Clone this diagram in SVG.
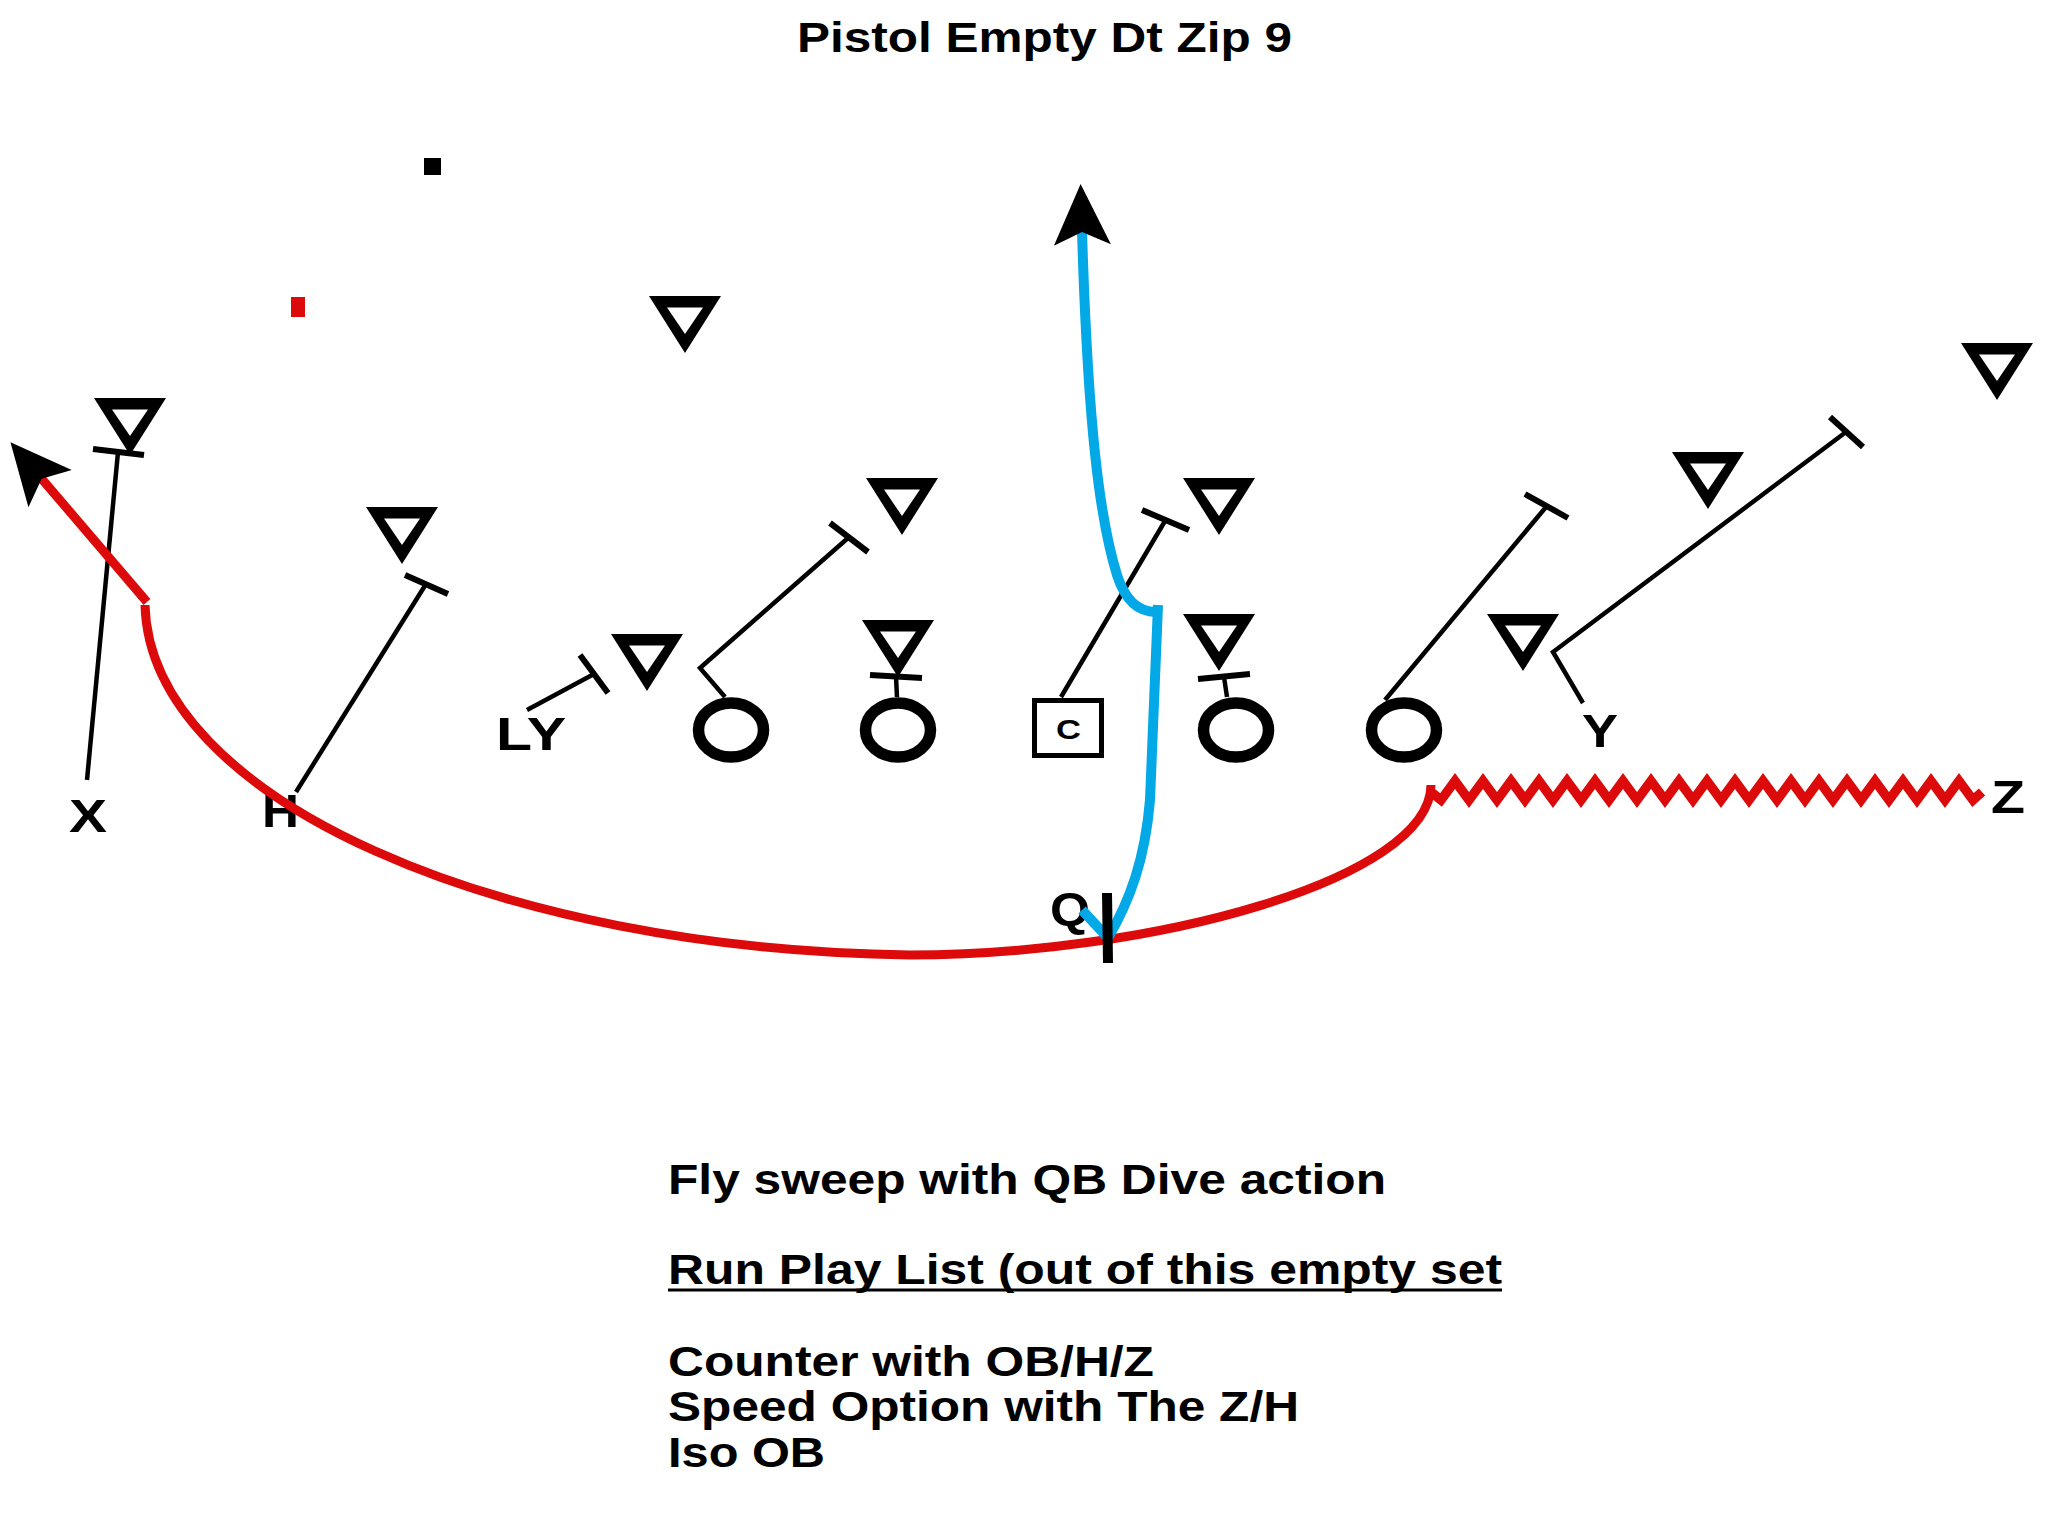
<svg xmlns="http://www.w3.org/2000/svg" width="2048" height="1536" viewBox="0 0 2048 1536">
<defs>
<style>
.lbl{font-family:"Liberation Sans",Arial,sans-serif;font-weight:bold;font-size:47px;fill:#000}
.txt{font-family:"Liberation Sans",Arial,sans-serif;font-weight:bold;font-size:42px;fill:#000}
.blk{stroke:#000;stroke-width:4.5;fill:none;stroke-linejoin:miter}
.bar{stroke:#000;stroke-width:6;fill:none}
.ol{fill:#fff;stroke:#000;stroke-width:11.5}
.red{fill:none;stroke:#dc0a0a;stroke-width:9}
.zig{fill:none;stroke:#dc0a0a;stroke-width:9.5;stroke-linejoin:miter}
.blue{fill:none;stroke:#03a9e6;stroke-width:10}
.tri{fill:#000;fill-rule:evenodd}
</style>
<path id="tri" d="M-36,0 H36 L0,57 Z M-18,11.5 L18,11.5 L0,38 Z"/>
<marker id="ah" markerUnits="userSpaceOnUse" viewBox="-70 -35 80 70" markerWidth="80" markerHeight="70" refX="-47" refY="0" orient="auto">
<path d="M0,0 L-61,-28.5 L-48,0 L-61,28.5 Z" fill="#000"/>
</marker>
</defs>
<rect width="2048" height="1536" fill="#fff"/>

<g id="title"><text class="txt" x="797" y="52" textLength="495" lengthAdjust="spacingAndGlyphs">Pistol Empty Dt Zip 9</text></g>

<g id="marks">
<rect x="424" y="158" width="17" height="17" fill="#000"/>
<rect x="291" y="297" width="14" height="20" fill="#dc0a0a"/>
</g>

<g id="defense" class="tri">
<use id="d1" href="#tri" transform="translate(130,398)"/>
<use id="d2" href="#tri" transform="translate(402,507)"/>
<use id="d3" href="#tri" transform="translate(685,296)"/>
<use id="d4" href="#tri" transform="translate(647,634)"/>
<use id="d5" href="#tri" transform="translate(902,478)"/>
<use id="d6" href="#tri" transform="translate(898,620)"/>
<use id="d7" href="#tri" transform="translate(1219,478)"/>
<use id="d8" href="#tri" transform="translate(1219,614)"/>
<use id="d9" href="#tri" transform="translate(1523,614)"/>
<use id="d10" href="#tri" transform="translate(1708,452)"/>
<use id="d11" href="#tri" transform="translate(1997,343)"/>
</g>

<g id="offense">
<g id="X"><text class="lbl" x="69" y="832" textLength="38" lengthAdjust="spacingAndGlyphs">X</text></g>
<g id="H"><text class="lbl" x="262" y="827" textLength="37" lengthAdjust="spacingAndGlyphs">H</text></g>
<g id="LY"><text class="lbl" x="496" y="750" textLength="70" lengthAdjust="spacingAndGlyphs">LY</text></g>
<g id="LT"><ellipse class="ol" cx="731" cy="730" rx="32.5" ry="27"/></g>
<g id="LG"><ellipse class="ol" cx="898" cy="730" rx="32.5" ry="27"/></g>
<g id="C"><rect x="1034.5" y="700.5" width="67" height="55" fill="#fff" stroke="#000" stroke-width="5"/><text class="txt" style="font-size:28px" x="1056" y="739" textLength="25" lengthAdjust="spacingAndGlyphs">C</text></g>
<g id="RG"><ellipse class="ol" cx="1236" cy="730" rx="32.5" ry="27"/></g>
<g id="RT"><ellipse class="ol" cx="1404" cy="730" rx="32.5" ry="27"/></g>
<g id="Y"><text class="lbl" x="1582" y="747" textLength="36" lengthAdjust="spacingAndGlyphs">Y</text></g>
<g id="Z"><text class="lbl" x="1991" y="813" textLength="34" lengthAdjust="spacingAndGlyphs">Z</text></g>
<g id="Q"><text class="lbl" x="1050" y="925" textLength="40" lengthAdjust="spacingAndGlyphs">Q</text></g>
</g>

<g id="connectors">
<polyline class="blk" points="87,780 118,452"/>
<line class="bar" x1="93" y1="449" x2="144" y2="455"/>
<polyline class="blk" points="296,792 426,584"/>
<line class="bar" x1="405" y1="575" x2="448" y2="594"/>
<polyline class="blk" points="527,710 594,674"/>
<line class="bar" x1="580" y1="655" x2="608" y2="693"/>
<polyline class="blk" points="725,697 700,668 848,538"/>
<line class="bar" x1="830" y1="523" x2="868" y2="552"/>
<polyline class="blk" points="897,697 896,677"/>
<line class="bar" x1="870" y1="675" x2="922" y2="678"/>
<polyline class="blk" points="1061,697 1165,521"/>
<line class="bar" x1="1142" y1="510" x2="1189" y2="530"/>
<polyline class="blk" points="1227,697 1224,677"/>
<line class="bar" x1="1198" y1="679" x2="1250" y2="674"/>
<polyline class="blk" points="1385,700 1546,507"/>
<line class="bar" x1="1525" y1="494" x2="1568" y2="518"/>
<polyline class="blk" points="1583,703 1553,652 1846,432"/>
<line class="bar" x1="1830" y1="417" x2="1863" y2="447"/>
<path class="red" d="M147,602 L41,478" marker-end="url(#ah)"/>
<path class="red" d="M145,605 C150,800 500,950 910,955 C1150,955 1430,880 1431,785"/>
<polyline class="zig" points="1431,792 1441,800 1455,781 1469,800 1483,781 1497,800 1511,781 1525,800 1539,781 1553,800 1567,781 1581,800 1595,781 1609,800 1623,781 1637,800 1651,781 1665,800 1679,781 1693,800 1707,781 1721,800 1735,781 1749,800 1763,781 1777,800 1791,781 1805,800 1819,781 1833,800 1847,781 1861,800 1875,781 1889,800 1903,781 1917,800 1931,781 1945,800 1959,781 1973,800 1982,792"/>
<path class="blue" d="M1082,910 L1108,938 C1130,900 1145,860 1150,800 L1158,605"/>
<path class="blue" d="M1156,612 C1138,612 1125,600 1117,575 C1100,520 1088,430 1082,231" marker-end="url(#ah)"/>
</g>

<g id="Q-mark"><line x1="1107" y1="893" x2="1108" y2="963" stroke="#000" stroke-width="10"/></g>

<g id="notes">
<text class="txt" x="668" y="1194" textLength="718" lengthAdjust="spacingAndGlyphs">Fly sweep with QB Dive action</text>
<text class="txt" x="668" y="1284" textLength="834" lengthAdjust="spacingAndGlyphs">Run Play List (out of this empty set</text>
<line x1="668" y1="1290" x2="1502" y2="1290" stroke="#000" stroke-width="3"/>
<text class="txt" x="668" y="1376" textLength="486" lengthAdjust="spacingAndGlyphs">Counter with OB/H/Z</text>
<text class="txt" x="668" y="1421" textLength="631" lengthAdjust="spacingAndGlyphs">Speed Option with The Z/H</text>
<text class="txt" x="668" y="1467" textLength="157" lengthAdjust="spacingAndGlyphs">Iso OB</text>
</g>
</svg>
